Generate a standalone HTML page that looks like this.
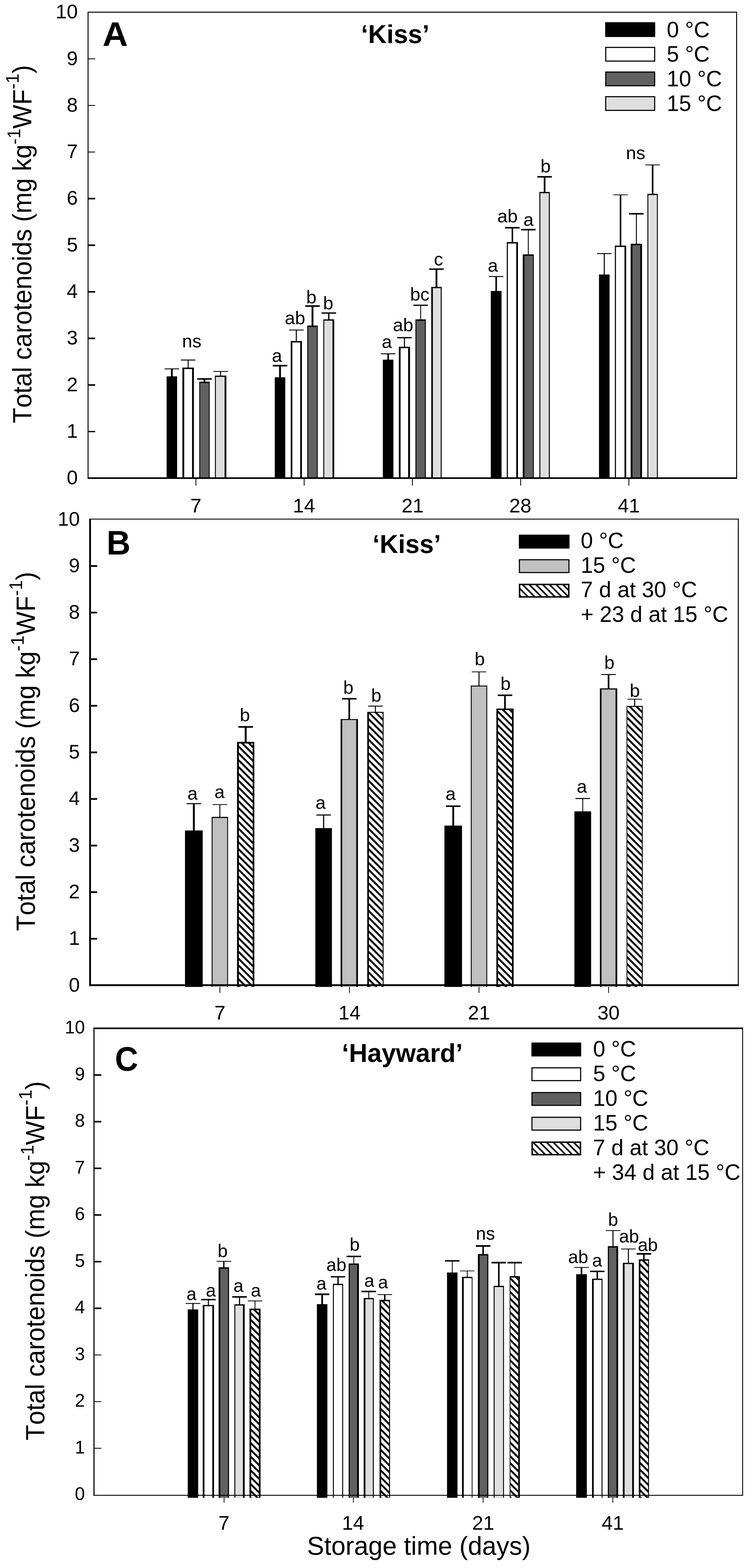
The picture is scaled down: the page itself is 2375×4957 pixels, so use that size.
<!DOCTYPE html>
<html><head><meta charset="utf-8"><title>Total carotenoids</title>
<style>
html,body{margin:0;padding:0;background:#fff;}
svg{display:block;}
text{font-family:'Liberation Sans', sans-serif;fill:#000;font-kerning:none;}
</style></head>
<body>
<svg width="2375" height="4957" viewBox="0 0 2375 4957">
<defs>
<pattern id="hatch" patternUnits="userSpaceOnUse" width="15.3" height="15.3" patternTransform="rotate(45)">
<rect x="0" y="0" width="15.3" height="15.3" fill="#fff"/><rect x="0" y="0" width="15.3" height="6" fill="#000"/>
</pattern>
<pattern id="hatchL" patternUnits="userSpaceOnUse" width="15.1" height="15.1" patternTransform="rotate(45)">
<rect x="0" y="0" width="15.1" height="15.1" fill="#fff"/><rect x="0" y="0" width="15.1" height="5" fill="#000"/>
</pattern>
</defs>
<rect x="0" y="0" width="2375" height="4957" fill="#fff"/>
<text x="211.06" y="1531.2" font-size="63">0</text>
<rect x="280" y="1362.4" width="21" height="4" fill="#000"/>
<text x="211.06" y="1383.9" font-size="63">1</text>
<rect x="280" y="1214.6" width="21" height="5" fill="#000"/>
<text x="211.06" y="1236.6" font-size="63">2</text>
<rect x="280" y="1067.3" width="21" height="5" fill="#000"/>
<text x="211.06" y="1089.3" font-size="63">3</text>
<rect x="280" y="920" width="21" height="5" fill="#000"/>
<text x="211.06" y="942" font-size="63">4</text>
<rect x="280" y="772.7" width="21" height="5" fill="#000"/>
<text x="211.06" y="794.7" font-size="63">5</text>
<rect x="280" y="625.4" width="21" height="5" fill="#000"/>
<text x="211.06" y="647.4" font-size="63">6</text>
<rect x="280" y="479.3" width="21" height="2.6" fill="#000"/>
<text x="211.06" y="500.1" font-size="63">7</text>
<rect x="280" y="332" width="21" height="2.6" fill="#000"/>
<text x="211.06" y="352.8" font-size="63">8</text>
<rect x="280" y="184.7" width="21" height="2.6" fill="#000"/>
<text x="211.06" y="205.5" font-size="63">9</text>
<text x="176.02" y="58.2" font-size="63">10</text>
<rect x="618.3" y="1514" width="2.6" height="21" fill="#000"/>
<rect x="960.6" y="1514" width="2.6" height="21" fill="#000"/>
<rect x="1302.9" y="1514" width="2.6" height="21" fill="#000"/>
<rect x="1645.2" y="1514" width="2.6" height="21" fill="#000"/>
<rect x="1987.5" y="1514" width="2.6" height="21" fill="#000"/>
<text x="602.08" y="1620" font-size="63">7</text>
<text x="926.36" y="1620" font-size="63">14</text>
<text x="1269.96" y="1620" font-size="63">21</text>
<text x="1610.46" y="1620" font-size="63">28</text>
<text x="1953.76" y="1620" font-size="63">41</text>
<rect x="526.9" y="1189.8" width="33.2" height="321.2" fill="#000"/>
<rect x="576.8" y="1162.1" width="36.4" height="348.9" fill="#000"/>
<rect x="582.6" y="1166.6" width="24.8" height="344.4" fill="#ffffff"/>
<rect x="630.2" y="1206.6" width="32.9" height="304.4" fill="#000"/>
<rect x="632.9" y="1211.2" width="27.6" height="299.8" fill="#616161"/>
<rect x="679.7" y="1187.4" width="36.1" height="323.6" fill="#000"/>
<rect x="682.6" y="1191.4" width="27.6" height="319.6" fill="#dedede"/>
<rect x="868.9" y="1192.9" width="33.3" height="318.1" fill="#000"/>
<rect x="919.4" y="1078.1" width="35.4" height="432.9" fill="#000"/>
<rect x="924.5" y="1082.6" width="24.9" height="428.4" fill="#ffffff"/>
<rect x="971.7" y="1029.2" width="33.1" height="481.8" fill="#000"/>
<rect x="974.6" y="1033.8" width="27.5" height="477.2" fill="#616161"/>
<rect x="1022.5" y="1009.6" width="34.5" height="501.4" fill="#000"/>
<rect x="1025.4" y="1013.6" width="26.1" height="497.4" fill="#dedede"/>
<rect x="1210.7" y="1137" width="33.5" height="374" fill="#000"/>
<rect x="1261.3" y="1096.2" width="35.4" height="414.8" fill="#000"/>
<rect x="1266.8" y="1100.7" width="23.9" height="410.3" fill="#ffffff"/>
<rect x="1313.8" y="1009.6" width="32.9" height="501.4" fill="#000"/>
<rect x="1316.7" y="1014.2" width="27.1" height="496.8" fill="#616161"/>
<rect x="1363.8" y="906.9" width="33" height="604.1" fill="#000"/>
<rect x="1368.9" y="910.9" width="24.9" height="600.1" fill="#dedede"/>
<rect x="1552.1" y="919.9" width="34" height="591.1" fill="#000"/>
<rect x="1602.7" y="765.3" width="35.3" height="745.7" fill="#000"/>
<rect x="1606.1" y="769.8" width="26.5" height="741.2" fill="#ffffff"/>
<rect x="1653.2" y="804.2" width="35" height="706.8" fill="#000"/>
<rect x="1658.7" y="808.8" width="26.9" height="702.2" fill="#616161"/>
<rect x="1705.7" y="606.8" width="33.1" height="904.2" fill="#000"/>
<rect x="1708.8" y="610.8" width="26.9" height="900.2" fill="#dedede"/>
<rect x="1894.3" y="867.8" width="33.5" height="643.2" fill="#000"/>
<rect x="1944.5" y="776.4" width="35.8" height="734.6" fill="#000"/>
<rect x="1947.9" y="780.9" width="27" height="730.1" fill="#ffffff"/>
<rect x="1994.5" y="770.6" width="35.9" height="740.4" fill="#000"/>
<rect x="2000.1" y="775.2" width="24.7" height="735.8" fill="#616161"/>
<rect x="2047.4" y="612.7" width="33" height="898.3" fill="#000"/>
<rect x="2050.3" y="616.7" width="27.2" height="894.3" fill="#dedede"/>
<rect x="540.65" y="1166.1" width="5.7" height="24.7" fill="#000"/>
<rect x="520.5" y="1164.7" width="46" height="2.8" fill="#000"/>
<rect x="593.5" y="1138.2" width="3" height="24.9" fill="#000"/>
<rect x="572" y="1136.7" width="46" height="3" fill="#000"/>
<rect x="643.65" y="1198" width="6" height="9.6" fill="#000"/>
<rect x="623.65" y="1195.5" width="46" height="5" fill="#000"/>
<rect x="696.25" y="1174.2" width="3" height="14.2" fill="#000"/>
<rect x="674.75" y="1172.9" width="46" height="2.6" fill="#000"/>
<rect x="882.6" y="1156" width="5.9" height="37.9" fill="#000"/>
<rect x="862.55" y="1153.5" width="46" height="5" fill="#000"/>
<rect x="935.5" y="1043.3" width="3.2" height="35.8" fill="#000"/>
<rect x="914.1" y="1041.95" width="46" height="2.7" fill="#000"/>
<rect x="985.3" y="967.5" width="5.9" height="62.7" fill="#000"/>
<rect x="965.25" y="965" width="46" height="5" fill="#000"/>
<rect x="1037.65" y="989.6" width="4.2" height="21" fill="#000"/>
<rect x="1016.75" y="987.5" width="46" height="4.2" fill="#000"/>
<rect x="1225" y="1118.5" width="4.9" height="19.5" fill="#000"/>
<rect x="1204.45" y="1117.05" width="46" height="2.9" fill="#000"/>
<rect x="1277.35" y="1067.5" width="3.3" height="29.7" fill="#000"/>
<rect x="1256" y="1065.45" width="46" height="4.1" fill="#000"/>
<rect x="1328.9" y="965" width="2.7" height="45.6" fill="#000"/>
<rect x="1307.25" y="963.05" width="46" height="3.9" fill="#000"/>
<rect x="1377.4" y="850.8" width="5.8" height="57.1" fill="#000"/>
<rect x="1357.3" y="848.55" width="46" height="4.5" fill="#000"/>
<rect x="1566.65" y="874.2" width="4.9" height="46.7" fill="#000"/>
<rect x="1546.1" y="872.75" width="46" height="2.9" fill="#000"/>
<rect x="1618" y="720" width="4.7" height="46.3" fill="#000"/>
<rect x="1597.35" y="717.55" width="46" height="4.9" fill="#000"/>
<rect x="1669.35" y="726" width="2.7" height="79.2" fill="#000"/>
<rect x="1647.7" y="723.55" width="46" height="4.9" fill="#000"/>
<rect x="1719.6" y="559" width="5.3" height="48.8" fill="#000"/>
<rect x="1699.25" y="556.55" width="46" height="4.9" fill="#000"/>
<rect x="1909.4" y="801.7" width="3.3" height="67.1" fill="#000"/>
<rect x="1888.05" y="800.25" width="46" height="2.9" fill="#000"/>
<rect x="1959.95" y="616" width="4.9" height="161.4" fill="#000"/>
<rect x="1939.4" y="614.85" width="46" height="2.3" fill="#000"/>
<rect x="2011" y="675.8" width="2.9" height="95.8" fill="#000"/>
<rect x="1989.45" y="673.35" width="46" height="4.9" fill="#000"/>
<rect x="2061.45" y="521.3" width="4.9" height="92.4" fill="#000"/>
<rect x="2040.9" y="520.05" width="46" height="2.5" fill="#000"/>
<rect x="277" y="37" width="3" height="1477" fill="#000"/>
<rect x="277" y="37" width="2054" height="3" fill="#000"/>
<rect x="2328" y="37" width="3" height="1477" fill="#000"/>
<rect x="277" y="1509" width="2054" height="5" fill="#000"/>
<text x="575.84" y="1098.3" font-size="58">ns</text>
<text x="859.84" y="1144.4" font-size="58">a</text>
<text x="900.78" y="1025.4" font-size="58">ab</text>
<text x="968.57" y="959" font-size="58">b</text>
<text x="1021.82" y="978" font-size="58">b</text>
<text x="1207.14" y="1100" font-size="58">a</text>
<text x="1242.48" y="1046.6" font-size="58">ab</text>
<text x="1297.07" y="949.9" font-size="58">bc</text>
<text x="1372.18" y="838.5" font-size="58">c</text>
<text x="1542.49" y="858.7" font-size="58">a</text>
<text x="1572.78" y="703.1" font-size="58">ab</text>
<text x="1655.14" y="713.8" font-size="58">a</text>
<text x="1709.37" y="544.6" font-size="58">b</text>
<text x="1979.49" y="503.2" font-size="58">ns</text>
<text transform="translate(324.23 144.8) scale(1.04 1)" font-size="107" font-weight="bold">A</text>
<text x="1141.8" y="136.2" font-size="81" font-weight="bold">‘Kiss’</text>
<rect x="1913.8" y="70.2" width="158.3" height="46.8" fill="#000"/>
<rect x="1913.8" y="148.1" width="158.3" height="46.8" fill="#000"/>
<rect x="1917.3" y="151.6" width="151.3" height="39.8" fill="#ffffff"/>
<rect x="1913.8" y="226" width="158.3" height="46.8" fill="#000"/>
<rect x="1917.3" y="229.5" width="151.3" height="39.8" fill="#616161"/>
<rect x="1913.8" y="303.9" width="158.3" height="46.8" fill="#000"/>
<rect x="1917.3" y="307.4" width="151.3" height="39.8" fill="#dedede"/>
<text x="2108.6" y="117.5" font-size="69.5">0 °C</text>
<text x="2108.6" y="195.4" font-size="69.5">5 °C</text>
<text x="2108.6" y="273.3" font-size="69.5">10 °C</text>
<text x="2108.6" y="351.2" font-size="69.5">15 °C</text>
<text transform="translate(98.7 1338) rotate(-90) scale(1 1.03)" font-size="80.1">Total carotenoids (mg kg<tspan font-size="56" dy="-33.5">-1</tspan><tspan dy="33.5">WF</tspan><tspan font-size="56" dy="-39">-1</tspan><tspan dy="39">)</tspan></text>
<text x="217.56" y="3134.5" font-size="63">0</text>
<rect x="287.7" y="2964.95" width="19.5" height="5.5" fill="#000"/>
<text x="217.56" y="2987.2" font-size="63">1</text>
<rect x="287.7" y="2817.65" width="19.5" height="5.5" fill="#000"/>
<text x="217.56" y="2839.9" font-size="63">2</text>
<rect x="287.7" y="2670.35" width="19.5" height="5.5" fill="#000"/>
<text x="217.56" y="2692.6" font-size="63">3</text>
<rect x="287.7" y="2523.05" width="19.5" height="5.5" fill="#000"/>
<text x="217.56" y="2545.3" font-size="63">4</text>
<rect x="287.7" y="2375.75" width="19.5" height="5.5" fill="#000"/>
<text x="217.56" y="2398" font-size="63">5</text>
<rect x="287.7" y="2228.45" width="19.5" height="5.5" fill="#000"/>
<text x="217.56" y="2250.7" font-size="63">6</text>
<rect x="287.7" y="2081.15" width="19.5" height="5.5" fill="#000"/>
<text x="217.56" y="2103.4" font-size="63">7</text>
<rect x="287.7" y="1933.85" width="19.5" height="5.5" fill="#000"/>
<text x="217.56" y="1956.1" font-size="63">8</text>
<rect x="287.7" y="1786.55" width="19.5" height="5.5" fill="#000"/>
<text x="217.56" y="1808.8" font-size="63">9</text>
<text x="182.52" y="1661.5" font-size="63">10</text>
<rect x="694.3" y="3117.3" width="2.4" height="21.7" fill="#000"/>
<rect x="1104" y="3117.3" width="2.4" height="21.7" fill="#000"/>
<rect x="1513.7" y="3117.3" width="2.4" height="21.7" fill="#000"/>
<rect x="1923.4" y="3117.3" width="2.4" height="21.7" fill="#000"/>
<text x="678.08" y="3223.3" font-size="63">7</text>
<text x="1070.16" y="3223.3" font-size="63">14</text>
<text x="1479.86" y="3223.3" font-size="63">21</text>
<text x="1889.56" y="3223.3" font-size="63">30</text>
<rect x="585" y="2625.4" width="56" height="494.6" fill="#000"/>
<rect x="669.4" y="2582.4" width="51.8" height="537.6" fill="#000"/>
<rect x="672.3" y="2586" width="46.2" height="534" fill="#c0c0c0"/>
<rect x="749.6" y="2345.3" width="54.7" height="774.7" fill="#000"/>
<rect x="755.4" y="2350.5" width="43.6" height="769.5" fill="url(#hatch)"/>
<rect x="997.2" y="2617.9" width="52.5" height="502.1" fill="#000"/>
<rect x="1077.1" y="2273.2" width="54.9" height="846.8" fill="#000"/>
<rect x="1082.3" y="2276.2" width="44.3" height="843.8" fill="#c0c0c0"/>
<rect x="1161.4" y="2250.4" width="51.7" height="869.6" fill="#000"/>
<rect x="1166.7" y="2253.4" width="43.5" height="866.6" fill="url(#hatch)"/>
<rect x="1405.5" y="2610" width="55.6" height="510" fill="#000"/>
<rect x="1488.8" y="2167.3" width="52" height="952.7" fill="#000"/>
<rect x="1491.7" y="2170.2" width="46.4" height="949.8" fill="#c0c0c0"/>
<rect x="1569.7" y="2240" width="54.6" height="880" fill="#000"/>
<rect x="1575.1" y="2244.8" width="43.9" height="875.2" fill="url(#hatch)"/>
<rect x="1816.5" y="2565" width="52.9" height="555" fill="#000"/>
<rect x="1897.1" y="2176.2" width="54.9" height="943.8" fill="#000"/>
<rect x="1902.3" y="2179.8" width="44.3" height="940.2" fill="#c0c0c0"/>
<rect x="1981.4" y="2231.6" width="51.3" height="888.4" fill="#000"/>
<rect x="1983.9" y="2234.7" width="45.9" height="885.3" fill="url(#hatch)"/>
<rect x="609.95" y="2540.6" width="6.1" height="85.8" fill="#000"/>
<rect x="590" y="2539" width="46" height="3.2" fill="#000"/>
<rect x="693.85" y="2543.5" width="2.9" height="39.9" fill="#000"/>
<rect x="672.3" y="2542.3" width="46" height="2.4" fill="#000"/>
<rect x="773.9" y="2298" width="6.1" height="48.3" fill="#000"/>
<rect x="753.95" y="2295.35" width="46" height="5.3" fill="#000"/>
<rect x="1021.65" y="2576.5" width="3.6" height="42.4" fill="#000"/>
<rect x="1000.45" y="2574.8" width="46" height="3.4" fill="#000"/>
<rect x="1101.9" y="2209" width="5.3" height="65.2" fill="#000"/>
<rect x="1081.55" y="2206.6" width="46" height="4.8" fill="#000"/>
<rect x="1185.7" y="2232.3" width="3.1" height="19.1" fill="#000"/>
<rect x="1164.25" y="2230.85" width="46" height="2.9" fill="#000"/>
<rect x="1430.4" y="2548.7" width="5.8" height="62.3" fill="#000"/>
<rect x="1410.3" y="2546.3" width="46" height="4.8" fill="#000"/>
<rect x="1513.25" y="2124" width="3.1" height="44.3" fill="#000"/>
<rect x="1491.8" y="2122.8" width="46" height="2.4" fill="#000"/>
<rect x="1594.35" y="2198" width="5.3" height="43" fill="#000"/>
<rect x="1574" y="2195.6" width="46" height="4.8" fill="#000"/>
<rect x="1841.6" y="2524.4" width="2.7" height="41.6" fill="#000"/>
<rect x="1819.95" y="2522.8" width="46" height="3.2" fill="#000"/>
<rect x="1921.9" y="2132.4" width="5.3" height="44.8" fill="#000"/>
<rect x="1901.55" y="2130.95" width="46" height="2.9" fill="#000"/>
<rect x="2005.35" y="2210.4" width="3.4" height="22.2" fill="#000"/>
<rect x="1984.05" y="2209.2" width="46" height="2.4" fill="#000"/>
<rect x="282" y="1639.7" width="5.7" height="1477.7" fill="#000"/>
<rect x="282" y="1639.7" width="2054.3" height="2.8" fill="#000"/>
<rect x="2333.3" y="1639.7" width="3" height="1477.7" fill="#000"/>
<rect x="282" y="3111.6" width="2054.3" height="5.8" fill="#000"/>
<text x="592.84" y="2527.7" font-size="58">a</text>
<text x="678.19" y="2522.8" font-size="58">a</text>
<text x="758.37" y="2279.7" font-size="58">b</text>
<text x="997.79" y="2557.3" font-size="58">a</text>
<text x="1085.42" y="2192.6" font-size="58">b</text>
<text x="1173.82" y="2217.9" font-size="58">b</text>
<text x="1409.09" y="2528.9" font-size="58">a</text>
<text x="1501.07" y="2103.3" font-size="58">b</text>
<text x="1582.87" y="2181" font-size="58">b</text>
<text x="1824.04" y="2506" font-size="58">a</text>
<text x="1911.07" y="2114" font-size="58">b</text>
<text x="1991.42" y="2202.7" font-size="58">b</text>
<text transform="translate(336.95 1752.8) scale(0.98 1)" font-size="107" font-weight="bold">B</text>
<text x="1178.3" y="1747.5" font-size="81" font-weight="bold">‘Kiss’</text>
<rect x="1640.8" y="1690.2" width="160.2" height="44" fill="#000"/>
<rect x="1640.8" y="1767.8" width="160.2" height="44" fill="#000"/>
<rect x="1644.3" y="1771.3" width="153.2" height="37" fill="#c0c0c0"/>
<rect x="1640.8" y="1845.4" width="160.2" height="44" fill="#000"/>
<rect x="1645.4" y="1850" width="151" height="34.8" fill="url(#hatchL)"/>
<text x="1836.6" y="1733" font-size="69.5">0 °C</text>
<text x="1836.6" y="1810.6" font-size="69.5">15 °C</text>
<text x="1836.6" y="1888.2" font-size="69.5">7 d at 30 °C</text>
<text x="1836.6" y="1965.8" font-size="69.5">+ 23 d at 15 °C</text>
<text transform="translate(109.8 2942.9) rotate(-90) scale(1 1.03)" font-size="80.35">Total carotenoids (mg kg<tspan font-size="56" dy="-33.5">-1</tspan><tspan dy="33.5">WF</tspan><tspan font-size="56" dy="-39">-1</tspan><tspan dy="39">)</tspan></text>
<text x="236.7" y="4742.2" font-size="57">0</text>
<rect x="299" y="4577.2" width="21.5" height="2.6" fill="#000"/>
<text x="236.7" y="4594.7" font-size="57">1</text>
<rect x="299" y="4429.7" width="21.5" height="2.6" fill="#000"/>
<text x="236.7" y="4447.2" font-size="57">2</text>
<rect x="299" y="4282.2" width="21.5" height="2.6" fill="#000"/>
<text x="236.7" y="4299.7" font-size="57">3</text>
<rect x="299" y="4133.5" width="21.5" height="5" fill="#000"/>
<text x="236.7" y="4152.2" font-size="57">4</text>
<rect x="299" y="3986" width="21.5" height="5" fill="#000"/>
<text x="236.7" y="4004.7" font-size="57">5</text>
<rect x="299" y="3838.5" width="21.5" height="5" fill="#000"/>
<text x="236.7" y="3857.2" font-size="57">6</text>
<rect x="299" y="3691" width="21.5" height="5" fill="#000"/>
<text x="236.7" y="3709.7" font-size="57">7</text>
<rect x="299" y="3543.5" width="21.5" height="5" fill="#000"/>
<text x="236.7" y="3562.2" font-size="57">8</text>
<rect x="299" y="3396" width="21.5" height="5" fill="#000"/>
<text x="236.7" y="3414.7" font-size="57">9</text>
<text x="205" y="3267.2" font-size="57">10</text>
<rect x="707.5" y="4729" width="2.4" height="21" fill="#000"/>
<rect x="1116.4" y="4729" width="2.4" height="21" fill="#000"/>
<rect x="1526.6" y="4729" width="2.4" height="21" fill="#000"/>
<rect x="1936.8" y="4729" width="2.4" height="21" fill="#000"/>
<text x="690.68" y="4836.4" font-size="63">7</text>
<text x="1081.46" y="4836.4" font-size="63">14</text>
<text x="1492.96" y="4836.4" font-size="63">21</text>
<text x="1902.76" y="4836.4" font-size="63">41</text>
<rect x="593.7" y="4139.5" width="33.1" height="595.5" fill="#000"/>
<rect x="641.1" y="4125.4" width="35.8" height="609.6" fill="#000"/>
<rect x="646.6" y="4129.4" width="24.8" height="605.6" fill="#ffffff"/>
<rect x="691.3" y="4006.3" width="33" height="728.7" fill="#000"/>
<rect x="696.9" y="4010.8" width="24.1" height="724.2" fill="#616161"/>
<rect x="741.2" y="4123.3" width="32.6" height="611.7" fill="#000"/>
<rect x="744.2" y="4127.3" width="24.1" height="607.7" fill="#dedede"/>
<rect x="789" y="4137" width="35" height="598" fill="#000"/>
<rect x="794.5" y="4141.5" width="24" height="593.5" fill="url(#hatch)"/>
<rect x="1002.2" y="4122.8" width="33.1" height="612.2" fill="#000"/>
<rect x="1052.8" y="4058.6" width="32.4" height="676.4" fill="#000"/>
<rect x="1055.8" y="4062.6" width="26.4" height="672.4" fill="#ffffff"/>
<rect x="1102.7" y="3994.3" width="32.3" height="740.7" fill="#000"/>
<rect x="1106.1" y="3998.8" width="23.4" height="736.2" fill="#616161"/>
<rect x="1150.1" y="4103.4" width="32.1" height="631.6" fill="#000"/>
<rect x="1155.7" y="4107.4" width="23.5" height="627.6" fill="#dedede"/>
<rect x="1200.3" y="4109.1" width="33.1" height="625.9" fill="#000"/>
<rect x="1205.4" y="4113.6" width="25" height="621.4" fill="url(#hatch)"/>
<rect x="1413.7" y="4022.8" width="33.1" height="712.2" fill="#000"/>
<rect x="1461.1" y="4036.5" width="33.1" height="698.5" fill="#000"/>
<rect x="1466.6" y="4040.5" width="25.2" height="694.5" fill="#ffffff"/>
<rect x="1511.3" y="3964.4" width="33" height="770.6" fill="#000"/>
<rect x="1516.9" y="3968.9" width="24.1" height="766.1" fill="#616161"/>
<rect x="1561.2" y="4064.9" width="32.6" height="670.1" fill="#000"/>
<rect x="1564.2" y="4068.9" width="26.8" height="666.1" fill="#dedede"/>
<rect x="1611.8" y="4034.3" width="32.2" height="700.7" fill="#000"/>
<rect x="1614.3" y="4038.8" width="24.6" height="696.2" fill="url(#hatch)"/>
<rect x="1822.1" y="4028.2" width="33.7" height="706.8" fill="#000"/>
<rect x="1872.3" y="4042.3" width="33.1" height="692.7" fill="#000"/>
<rect x="1877.6" y="4046.3" width="24.8" height="688.7" fill="#ffffff"/>
<rect x="1922.2" y="3939.5" width="32.7" height="795.5" fill="#000"/>
<rect x="1925.6" y="3944" width="23.8" height="791" fill="#616161"/>
<rect x="1969.6" y="3992.2" width="35.2" height="742.8" fill="#000"/>
<rect x="1975.2" y="3996.2" width="24" height="738.8" fill="#dedede"/>
<rect x="2020.2" y="3981.2" width="32.2" height="753.8" fill="#000"/>
<rect x="2025.3" y="3985.7" width="24.1" height="749.3" fill="url(#hatch)"/>
<rect x="608.45" y="4120.8" width="3.6" height="19.7" fill="#000"/>
<rect x="587.25" y="4119.45" width="46" height="2.7" fill="#000"/>
<rect x="657.4" y="4108.5" width="3.2" height="17.9" fill="#000"/>
<rect x="636" y="4106.2" width="46" height="4.6" fill="#000"/>
<rect x="705.7" y="3987.4" width="4.2" height="19.9" fill="#000"/>
<rect x="684.8" y="3986.15" width="46" height="2.5" fill="#000"/>
<rect x="755.7" y="4100" width="3.6" height="24.3" fill="#000"/>
<rect x="734.5" y="4097.5" width="46" height="5" fill="#000"/>
<rect x="805.25" y="4112.7" width="2.5" height="25.3" fill="#000"/>
<rect x="783.5" y="4111.45" width="46" height="2.5" fill="#000"/>
<rect x="1016.1" y="4091.7" width="5.3" height="32.1" fill="#000"/>
<rect x="995.75" y="4089.05" width="46" height="5.3" fill="#000"/>
<rect x="1066.9" y="4036.4" width="4.2" height="23.2" fill="#000"/>
<rect x="1046" y="4034.3" width="46" height="4.2" fill="#000"/>
<rect x="1117.6" y="3972" width="2.5" height="23.3" fill="#000"/>
<rect x="1095.85" y="3969.7" width="46" height="4.6" fill="#000"/>
<rect x="1164.8" y="4082.8" width="2.7" height="21.6" fill="#000"/>
<rect x="1143.15" y="4080.4" width="46" height="4.8" fill="#000"/>
<rect x="1214.45" y="4092.7" width="4.8" height="17.4" fill="#000"/>
<rect x="1193.85" y="4091.45" width="46" height="2.5" fill="#000"/>
<rect x="1429" y="3986" width="2.5" height="37.8" fill="#000"/>
<rect x="1407.25" y="3983.7" width="46" height="4.6" fill="#000"/>
<rect x="1476.4" y="4017.9" width="2.5" height="19.6" fill="#000"/>
<rect x="1454.65" y="4016.85" width="46" height="2.1" fill="#000"/>
<rect x="1525.4" y="3939" width="4.8" height="26.4" fill="#000"/>
<rect x="1504.8" y="3936.35" width="46" height="5.3" fill="#000"/>
<rect x="1575.1" y="3991.6" width="4.8" height="74.3" fill="#000"/>
<rect x="1554.5" y="3988.95" width="46" height="5.3" fill="#000"/>
<rect x="1626.65" y="3991.6" width="2.5" height="43.7" fill="#000"/>
<rect x="1604.9" y="3988.95" width="46" height="5.3" fill="#000"/>
<rect x="1836.55" y="4006.9" width="4.8" height="22.3" fill="#000"/>
<rect x="1815.95" y="4005.65" width="46" height="2.5" fill="#000"/>
<rect x="1886.55" y="4019.3" width="4.6" height="24" fill="#000"/>
<rect x="1865.85" y="4017" width="46" height="4.6" fill="#000"/>
<rect x="1936.95" y="3890.2" width="3.2" height="50.3" fill="#000"/>
<rect x="1915.55" y="3888.95" width="46" height="2.5" fill="#000"/>
<rect x="1985.6" y="3948.5" width="3.2" height="44.7" fill="#000"/>
<rect x="1964.2" y="3947.25" width="46" height="2.5" fill="#000"/>
<rect x="2034" y="3963.8" width="4.6" height="18.4" fill="#000"/>
<rect x="2013.3" y="3961.15" width="46" height="5.3" fill="#000"/>
<rect x="295.5" y="3248.4" width="3.5" height="1480.2" fill="#000"/>
<rect x="295.5" y="3248.4" width="2054.4" height="5" fill="#000"/>
<rect x="2347.1" y="3248.4" width="2.8" height="1480.2" fill="#000"/>
<rect x="295.5" y="4725.8" width="2054.4" height="2.8" fill="#000"/>
<text x="589.79" y="4109.6" font-size="57">a</text>
<text x="650.89" y="4099" font-size="57">a</text>
<text x="688.36" y="3973.6" font-size="57">b</text>
<text x="738.34" y="4084.3" font-size="57">a</text>
<text x="793.14" y="4099" font-size="57">a</text>
<text x="1000.84" y="4076.5" font-size="57">a</text>
<text x="1031.99" y="4017.5" font-size="57">ab</text>
<text x="1105.71" y="3954.3" font-size="57">b</text>
<text x="1152.04" y="4068" font-size="57">a</text>
<text x="1195.54" y="4073.3" font-size="57">a</text>
<text x="1504.94" y="3918.9" font-size="57">ns</text>
<text x="1796.79" y="3992.8" font-size="57">ab</text>
<text x="1872.49" y="4004.4" font-size="57">a</text>
<text x="1923.11" y="3874.8" font-size="57">b</text>
<text x="1957.64" y="3927.5" font-size="57">ab</text>
<text x="2016.89" y="3954.9" font-size="57">ab</text>
<text transform="translate(363.43 3385) scale(0.95 1)" font-size="107" font-weight="bold">C</text>
<text x="1080.9" y="3356.9" font-size="81" font-weight="bold">‘Hayward’</text>
<rect x="1680.6" y="3295.8" width="157.4" height="44" fill="#000"/>
<rect x="1680.6" y="3374" width="157.4" height="44" fill="#000"/>
<rect x="1684.1" y="3377.5" width="150.4" height="37" fill="#ffffff"/>
<rect x="1680.6" y="3452.2" width="157.4" height="44" fill="#000"/>
<rect x="1684.1" y="3455.7" width="150.4" height="37" fill="#616161"/>
<rect x="1680.6" y="3530.4" width="157.4" height="44" fill="#000"/>
<rect x="1684.1" y="3533.9" width="150.4" height="37" fill="#dedede"/>
<rect x="1680.6" y="3608.6" width="157.4" height="44" fill="#000"/>
<rect x="1685.2" y="3613.2" width="148.2" height="34.8" fill="url(#hatchL)"/>
<text x="1875.4" y="3339.6" font-size="69.5">0 °C</text>
<text x="1875.4" y="3417.6" font-size="69.5">5 °C</text>
<text x="1875.4" y="3495.6" font-size="69.5">10 °C</text>
<text x="1875.4" y="3573.6" font-size="69.5">15 °C</text>
<text x="1875.4" y="3651.6" font-size="69.5">7 d at 30 °C</text>
<text x="1875.4" y="3729.6" font-size="69.5">+ 34 d at 15 °C</text>
<text transform="translate(140 4553.5) rotate(-90) scale(1 1.03)" font-size="80.35">Total carotenoids (mg kg<tspan font-size="56" dy="-33.5">-1</tspan><tspan dy="33.5">WF</tspan><tspan font-size="56" dy="-39">-1</tspan><tspan dy="39">)</tspan></text>
<text x="971.12" y="4915.3" font-size="81">Storage time (days)</text>
</svg>
</body></html>
